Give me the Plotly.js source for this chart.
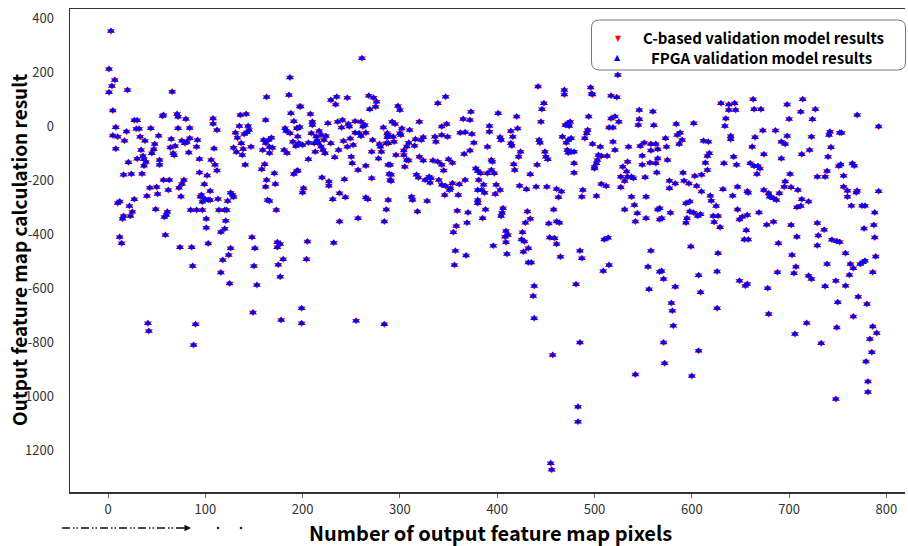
<!DOCTYPE html>
<html>
<head>
<meta charset="utf-8">
<script src="https://cdn.plot.ly/plotly-3.0.1.min.js"></script>
<style>html,body{margin:0;padding:0;background:#fff;}#chart{width:908px;height:546px;}</style>
</head>
<body>
<div id="chart"></div>
<script>
// Pixel index (x) and output values (y).
const pixelIndex = [
3,1,7,4,1,20,66,5,27,30,8,5,10,19,29,32,44,17,8,33,
38,52,71,72,56,57,80,72,84,65,76,79,81,84,69,64,34,48,47,45,
36,37,30,67,68,83,92,91,94,109,108,108,112,106,110,112,94,102,99,105,
21,39,37,53,53,16,24,35,57,63,78,76,73,43,50,51,40,62,75,27,
22,12,25,23,16,15,49,61,60,58,85,91,97,100,103,105,96,95,97,101,
101,113,123,126,128,129,114,120,122,121,120,116,103,86,74,59,12,14,126,148,
151,174,177,163,162,187,186,188,197,191,136,142,135,144,145,143,131,133,140,137,
139,147,129,132,138,141,160,162,165,168,166,169,159,166,182,183,187,194,197,190,
193,196,181,184,161,158,171,172,163,162,164,166,191,194,173,124,118,116,87,125,
150,153,174,180,175,177,149,178,41,42,90,88,10,
261,229,235,234,246,268,273,276,275,269,198,208,210,210,226,236,241,240,247,248,
254,260,262,264,283,195,195,209,214,217,219,224,222,215,216,219,221,223,197,200,
206,212,229,237,242,246,249,252,254,258,260,265,272,279,280,281,287,287,286,271,
206,213,233,250,251,257,265,278,195,220,227,227,243,271,288,289,290,201,200,231,
238,244,265,267,286,238,257,284,205,232,204,199,199,255,284,
347,339,298,300,373,372,365,292,295,302,300,301,310,320,288,288,293,294,343,348,
362,367,374,376,316,315,309,307,304,322,324,336,337,343,349,296,304,307,309,320,
324,334,339,343,345,350,354,366,372,378,290,291,291,305,317,319,326,330,331,332,
340,343,347,352,354,361,367,360,346,351,312,313,328,318,359,370,369,358,355,357,
368,356,380,381,380,380,380,288,
442,469,469,448,446,445,443,444,470,473,467,471,472,473,401,392,392,403,404,390,
420,414,421,416,414,415,424,422,449,450,452,441,394,395,394,390,397,383,417,418,
434,386,384,387,398,399,403,423,430,440,451,461,466,463,388,385,406,405,404,431,
434,429,458,453,461,464,409,411,408,409,426,425,428,432,427,432,435,410,396,454,
459,461,465,438,437,438,457,455,456,
524,496,497,498,517,523,546,560,494,517,521,525,515,519,546,545,561,475,474,493,
492,490,476,473,476,479,498,506,519,521,535,547,551,558,563,558,504,507,513,503,
502,500,500,529,534,549,549,557,563,565,479,479,527,531,534,538,540,552,564,533,
507,512,527,488,487,502,538,553,531,541,544,542,553,565,567,510,514,485,487,509,
515,558,555,556,567,481,485,542,483,483,
630,638,644,638,645,635,634,640,640,584,602,588,585,590,587,573,574,612,617,565,
575,591,603,610,616,616,618,614,633,643,646,577,583,577,592,597,605,610,619,620,
625,632,642,647,657,567,578,598,594,598,602,595,594,606,609,622,627,623,629,647,
649,652,657,656,654,569,599,627,569,571,583,607,609,626,626,649,655,579,580,581,
571,572,600,607,
663,664,671,698,714,712,727,724,700,673,686,665,662,692,696,698,723,721,742,741,
752,713,674,692,660,664,668,670,667,701,743,740,739,737,729,751,674,679,680,684,
687,690,695,696,702,709,713,708,712,720,658,669,677,684,702,708,689,729,736,730,
729,744,749,658,703,707,705,688,720,723,739,737,748,750,657,678,679,706,718,733,
749,748,
770,792,754,753,756,756,765,767,760,770,760,764,775,778,769,792,788,752,777,787,
788,758,763,766,762,773,776,778,789,786,758,771,780,766,786,790,783,785,779,781,781
];
const cBasedValues = [
352,211,170,148,125,133,127,57,21,21,-5,-35,-40,-20,-10,-10,-8,-55,-84,-40,
-55,-36,44,34,37,41,26,-8,-7,-48,-55,-64,-59,-45,-74,-80,-89,-67,-86,-101,
-111,-123,-121,-101,-108,-98,-52,-77,-122,-83,28,8,-15,-126,-144,-165,-172,-183,-216,-241,
-134,-133,-147,-126,-144,-181,-178,-177,-200,-200,-200,-215,-229,-229,-226,-252,-259,-237,-261,-271,
-296,-280,-318,-333,-333,-344,-308,-318,-330,-337,-311,-311,-281,-271,-274,-274,-256,-262,-311,-344,
-377,-270,-278,-247,-255,-263,-311,-311,-311,-351,-381,-393,-435,-449,-449,-404,-411,-434,-453,-412,
-453,-431,-437,107,22,180,115,47,72,18,41,44,0,0,-15,-23,-25,-44,-30,-64,
-85,-77,-81,-96,-107,-144,-52,-63,-52,-44,-78,-81,-89,-100,-8,-19,-27,-8,-4,-58,
-74,-64,-89,-100,-142,-160,-175,-215,-200,-225,-274,-278,-178,-167,-311,-478,-496,-543,-519,-583,
-519,-589,-449,-494,-514,-558,-691,-719,-731,-759,-734,-811,-285,
251,96,108,80,105,112,105,90,71,62,72,44,16,4,10,16,22,-6,7,-2,
18,16,-2,4,-6,-8,-39,-27,-39,-19,-33,-37,-52,-54,-64,-76,-89,-101,-67,-70,
-62,-64,-64,-89,-56,-77,-46,-70,-25,-27,-37,-25,-52,-67,-77,-95,-27,-42,-64,-95,
-123,-95,-116,-114,-138,-163,-147,-120,-165,-191,-206,-221,-197,-194,-144,-178,-200,-231,-246,-271,
-249,-264,-265,-271,-309,-354,-342,-354,-428,-432,-494,-675,-731,-721,-734,
108,84,74,59,53,22,26,16,7,-9,-27,-33,-15,16,-33,-64,-40,-58,-2,7,
-25,-23,-30,-62,-49,-73,-62,-76,-91,-52,-42,-40,-58,-33,-40,-107,-107,-126,-128,-114,
-128,-128,-132,-144,-165,-123,-136,-104,-91,-157,-144,-181,-204,-151,-181,-191,-200,-188,-210,-194,
-200,-218,-222,-231,-212,-216,-200,-256,-256,-237,-262,-274,-278,-317,-314,-320,-358,-370,-394,-462,
-480,-515,-167,-200,-237,-274,-286,-274,
146,133,117,84,62,16,-52,-62,4,10,-40,-62,-89,-99,47,0,-21,-42,-52,-77,
35,-19,-9,-40,-64,-73,-95,-114,-95,-114,-123,-144,-126,-132,-163,-175,-175,-175,-142,-163,
-179,-218,-237,-247,-252,-218,-237,-221,-234,-225,-225,-233,-243,-264,-309,-342,-305,-321,-333,-317,
-344,-358,-309,-361,-354,-358,-389,-404,-410,-431,-394,-420,-428,-453,-466,-506,-506,-474,-444,-413,
-416,-437,-484,-593,-630,-712,-848,-1249,-1273,
189,143,119,117,112,106,59,54,35,28,35,16,-6,-6,25,4,3,16,0,-15,
-27,-45,-45,-52,-95,-95,-67,-77,-58,-89,-77,-74,-62,-67,-67,-91,-107,-111,-111,-126,
-138,-151,-157,-151,-132,-110,-144,-136,-138,-120,-138,-173,-188,-204,-188,-188,-194,-190,-172,-169,
-215,-222,-227,-237,-262,-259,-262,-262,-309,-293,-323,-354,-342,-309,-346,-420,-414,-462,-490,-537,
-515,-462,-521,-605,-540,-586,-802,-920,-1040,-1095,
84,80,84,59,59,28,0,-37,-49,7,10,-25,-33,-52,-67,-45,-77,-55,-58,-86,
-126,-173,-185,-181,-163,-111,-101,-136,-138,-114,-144,-203,-213,-231,-203,-213,-222,-243,-258,-277,
-296,-234,-258,-225,-242,-305,-321,-280,-286,-317,-321,-342,-358,-333,-327,-333,-333,-356,-375,-309,
-346,-336,-330,-386,-420,-342,-446,-471,-537,-567,-595,-553,-616,-539,-675,-573,-592,-656,-684,-740,
-802,-879,-926,-832,
99,62,62,80,99,53,62,25,26,-17,-17,-42,-77,-58,-67,-37,-40,-89,-21,-33,
-25,-105,-105,-120,-138,-148,-148,-157,-178,-178,-79,-114,-167,-188,-188,-148,-237,-249,-262,-268,
-274,-249,-225,-206,-227,-237,-271,-301,-296,-280,-247,-320,-366,-355,-367,-410,-434,-359,-384,-406,
-443,-421,-427,-420,-478,-521,-545,-542,-555,-567,-511,-594,-573,-653,-585,-601,-696,-770,-730,-805,
-746,-1011,
41,-2,-25,-143,-184,-225,-139,-147,-240,-240,-262,-295,-295,-295,-246,-242,-320,-430,-380,-367,
-413,-471,-511,-527,-552,-511,-505,-499,-483,-542,-592,-632,-659,-706,-743,-767,-789,-838,-872,-946,-985
];
// The FPGA results coincide with the C-based results in the picture.
const fpgaValues = cBasedValues.slice();

const xTickVals = [0,100,200,300,400,500,600,700,800];
const yTickVals = [400,200,0,-200,-400,-600,-800,-1000,-1200];
const yTickText = ['400','200','0','-200','-400','-600','-800','1000','1200'];
const seriesNames = ['C-based validation model results','FPGA validation model results'];

const PL = 70, PR = 905, PT = 9, PB = 492;
const px = v => (v - PL) / (PR - PL);
const py = v => (PB - v) / (PB - PT);

const traces = [
  {x: pixelIndex, y: cBasedValues, type: 'scatter', mode: 'markers', name: seriesNames[0],
   marker: {symbol: 'triangle-down', size: 7, color: 'rgb(255,0,0)', line: {width: 0}}},
  {x: pixelIndex, y: fpgaValues, type: 'scatter', mode: 'markers', name: seriesNames[1],
   marker: {symbol: 'triangle-up', size: 7, color: 'rgb(0,0,255)', line: {width: 0}}}
];

// rounded legend box
const bx0 = px(591.5), bx1 = px(905.5), by0 = py(70), by1 = py(20);
const rx = 8 / (PR - PL), ry = 8 / (PB - PT);
const boxPath = `M ${bx0+rx},${by1} L ${bx1-rx},${by1} Q ${bx1},${by1} ${bx1},${by1-ry} L ${bx1},${by0+ry} Q ${bx1},${by0} ${bx1-rx},${by0} L ${bx0+rx},${by0} Q ${bx0},${by0} ${bx0},${by0+ry} L ${bx0},${by1-ry} Q ${bx0},${by1} ${bx0+rx},${by1} Z`;

const titleFont = {family: '"Noto Sans CJK KR", "Noto Sans", sans-serif', size: 20, color: '#000', weight: 'bold'};
const tickFont = {family: '"Noto Sans CJK KR", "Noto Sans", sans-serif', size: 13, color: '#333'};
const legendFont = {family: '"Noto Sans CJK KR", "Noto Sans", sans-serif', size: 15, color: '#000', weight: 'bold'};
const layout = {
  width: 908, height: 546,
  margin: {l: PL, r: 908 - PR, t: PT, b: 546 - PB, pad: 0},
  paper_bgcolor: '#fff', plot_bgcolor: '#fff',
  showlegend: false,
  xaxis: {range: [-39.05, 819.1], tickvals: xTickVals, showgrid: false, zeroline: false,
    showline: true, linecolor: '#333', linewidth: 1.5, mirror: true,
    ticks: 'outside', ticklen: 4, tickcolor: '#666', tickwidth: 1, ticklabelstandoff: 1,
    tickfont: tickFont},
  yaxis: {range: [-1355.6, 433.3], tickvals: yTickVals, ticktext: yTickText, showgrid: false, zeroline: false,
    showline: true, linecolor: '#333', linewidth: 1.5, ticks: '', ticklabelstandoff: 12,
    tickfont: tickFont},
  shapes: [
    {type: 'path', xref: 'paper', yref: 'paper', path: boxPath, fillcolor: '#fff', line: {color: '#777', width: 1}, layer: 'above'},
    {type: 'line', xref: 'paper', yref: 'paper', x0: px(62), x1: px(184), y0: py(528), y1: py(528),
     line: {color: '#111', width: 1.3, dash: '8px,3px,1.5px,2px,1.5px,3px'}},
    {type: 'circle', xref: 'paper', yref: 'paper', xsizemode: 'pixel', ysizemode: 'pixel', xanchor: px(218), yanchor: py(528),
     x0: -1.3, x1: 1.3, y0: -1.3, y1: 1.3, fillcolor: '#222', line: {width: 0}},
    {type: 'circle', xref: 'paper', yref: 'paper', xsizemode: 'pixel', ysizemode: 'pixel', xanchor: px(241), yanchor: py(528),
     x0: -1.3, x1: 1.3, y0: -1.3, y1: 1.3, fillcolor: '#222', line: {width: 0}}
  ],
  annotations: [
    {xref: 'paper', yref: 'paper', x: px(490), y: py(532), xanchor: 'center', yanchor: 'middle', showarrow: false,
     text: 'Number of output feature map pixels', font: titleFont},
    {xref: 'paper', yref: 'paper', x: px(18), y: py(250), xanchor: 'center', yanchor: 'middle', showarrow: false, textangle: -90,
     text: 'Output feature map calculation result', font: Object.assign({}, titleFont, {size: 19})},
    {xref: 'paper', yref: 'paper', x: px(191), y: py(528), ax: -9, ay: 0, showarrow: true, arrowhead: 2, arrowsize: 1,
     arrowwidth: 1.3, arrowcolor: '#111', text: ''},
    {xref: 'paper', yref: 'paper', x: px(618.3), y: py(38.5), xanchor: 'center', yanchor: 'middle', showarrow: false,
     text: '▼', font: {family: 'DejaVu Sans', size: 8, color: 'rgb(255,0,0)'}},
    {xref: 'paper', yref: 'paper', x: px(617.7), y: py(57.5), xanchor: 'center', yanchor: 'middle', showarrow: false,
     text: '▲', font: {family: 'DejaVu Sans', size: 8, color: 'rgb(0,0,255)'}},
    {xref: 'paper', yref: 'paper', x: px(763.4), y: py(38), xanchor: 'center', yanchor: 'middle', showarrow: false,
     text: seriesNames[0], font: legendFont},
    {xref: 'paper', yref: 'paper', x: px(761.5), y: py(57.7), xanchor: 'center', yanchor: 'middle', showarrow: false,
     text: seriesNames[1], font: legendFont}
  ]
};

Plotly.newPlot('chart', traces, layout, {staticPlot: true, displayModeBar: false});
</script>
</body>
</html>
